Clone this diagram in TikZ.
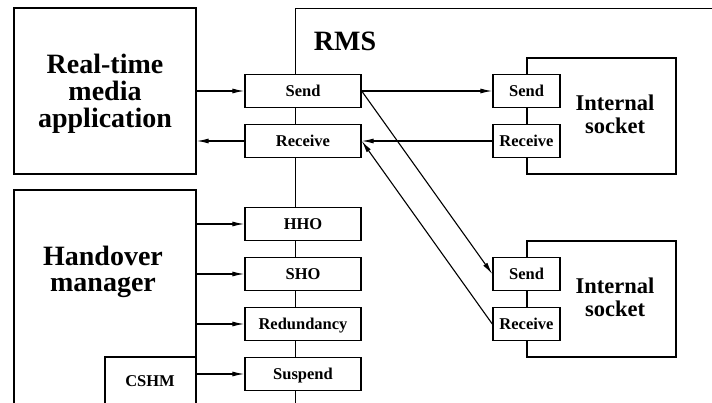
\documentclass[tikz,border=0pt]{standalone}
\usepackage{fontspec}
\setmainfont{Liberation Serif}
\usetikzlibrary{arrows.meta, positioning}

\begin{document}
\begin{tikzpicture}[
    x=1pt, y=-1pt,
    line width=1.4pt,
    every node/.style={inner sep=0pt, align=center},
    bigtext/.style={font=\fontsize{28}{27}\selectfont\bfseries},
    socktext/.style={font=\fontsize{22.5}{23.5}\selectfont\bfseries},
    smalltext/.style={font=\fontsize{16.5}{18}\selectfont\bfseries,
                      text height=10.8pt, text depth=0pt},
    port/.style={draw, rectangle, fill=white, smalltext,
                 minimum width=116pt, minimum height=33pt},
    sockport/.style={port, minimum width=67pt},
    sockbox/.style={draw, rectangle, minimum width=149pt, minimum height=116pt},
    arr/.style={-{Latex[length=12pt,width=5pt]}, line width=1.1pt}
  ]

  \useasboundingbox (0,0) rectangle (712,403);

  % application side
  \node[draw, minimum width=182pt, minimum height=166pt] (app) at (105,91) {};
  \node[bigtext] (apptext) at (105,94) {Real-time\\media\\application};

  \node[draw, minimum width=182pt, minimum height=240pt] (hom) at (105,310) {};
  \node[font=\fontsize{28}{26}\selectfont\bfseries] (homtext) at (103,272) {Handover\\manager};

  \node[draw, fill=white, minimum width=91pt, minimum height=73pt] (cshm) at (150.5,393.5) {};
  \node[smalltext] (cshmtext) at (150,381) {CSHM};

  % RMS
  \node[draw, anchor=north west, minimum width=440pt, minimum height=420pt] (rms) at (295,8) {};
  \node[bigtext] (rmstext) at (345,41) {RMS};

  \node[port] (rsend) at (303,91) {Send};
  \node[port] (rrecv) at (303,141) {Receive};
  \node[port] (hho) at (303,224) {HHO};
  \node[port] (sho) at (303,274) {SHO};
  \node[port] (red) at (303,324) {Redundancy};
  \node[port] (susp) at (303,374) {Suspend};

  % internal sockets
  \node[sockbox] (socka) at (601.5,116) {};
  \node[sockport] (asend) at (526.5,91) {Send};
  \node[sockport] (arecv) at (526.5,141) {Receive};
  \node[socktext] (atext) at (615,114.5) {Internal\\socket};

  \node[sockbox] (sockb) at (601.5,299) {};
  \node[sockport] (bsend) at (526.5,274) {Send};
  \node[sockport] (brecv) at (526.5,324) {Receive};
  \node[socktext] (btext) at (615,297.5) {Internal\\socket};

  % connectors
  \draw[arr] (app.east |- rsend) -- (rsend.west);
  \draw[arr] (rrecv.west) -- (app.east |- rrecv);
  \draw[arr] (hom.east |- hho) -- (hho.west);
  \draw[arr] (hom.east |- sho) -- (sho.west);
  \draw[arr] (hom.east |- red) -- (red.west);
  \draw[arr] (cshm.east |- susp) -- (susp.west);

  \draw[arr] (rsend.east) -- (asend.west);
  \draw[arr] (arecv.west) -- (rrecv.east);
  \draw[arr] (rsend.east) -- (bsend.west);
  \draw[arr] (brecv.west) -- (rrecv.east);

\end{tikzpicture}
\end{document}
